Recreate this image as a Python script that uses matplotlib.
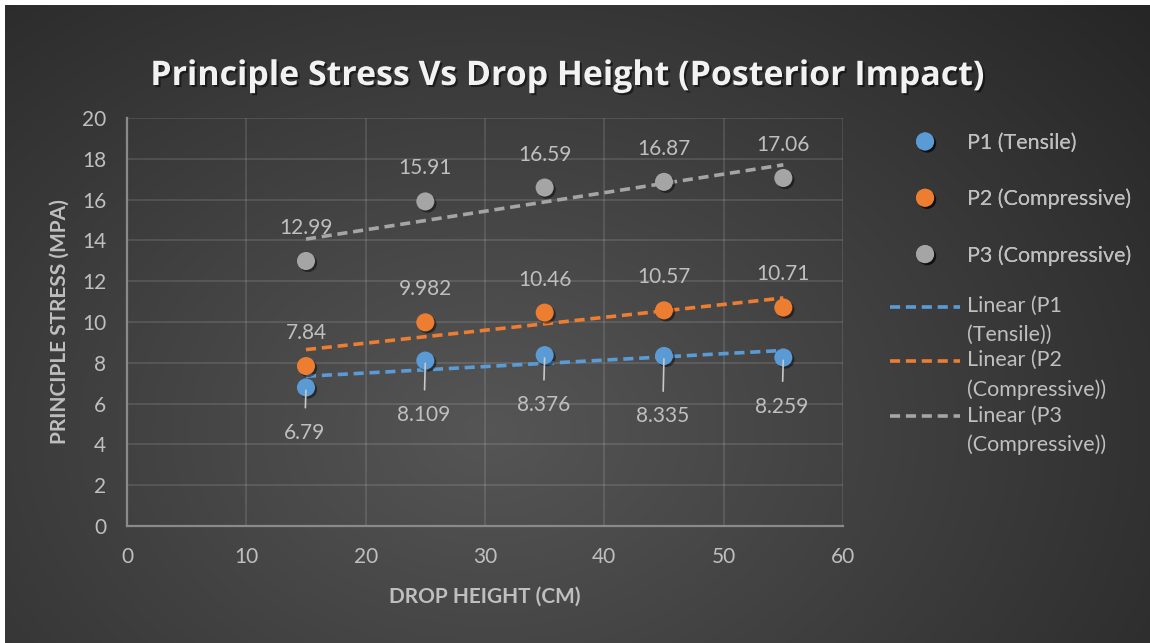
import numpy as np
import matplotlib
matplotlib.use('Agg')
import matplotlib.pyplot as plt
import matplotlib.patheffects as pe
from matplotlib.legend_handler import HandlerLine2D

# data
drop_height = [15, 25, 35, 45, 55]
p1_tensile = [6.79, 8.109, 8.376, 8.335, 8.259]
p2_compressive = [7.84, 9.982, 10.46, 10.57, 10.71]
p3_compressive = [12.99, 15.91, 16.59, 16.87, 17.06]
series_names = ['P1 (Tensile)', 'P2 (Compressive)', 'P3 (Compressive)']
trend_names = ['Linear (P1\n(Tensile))', 'Linear (P2\n(Compressive))', 'Linear (P3\n(Compressive))']
colors = ['#5B9BD5', '#ED7D31', '#A5A5A5']
# how far (px) below its point each P1 label sits in the original
label_drop_px = [45.5, 54.5, 50, 60.5, 49]

plt.rcParams['font.family'] = ['Lato', 'DejaVu Sans']
TXT = '#bfbfbf'


class FirstLineHandler(HandlerLine2D):
    # put the legend line next to the first row of a two-row label
    def create_artists(self, legend, orig_handle, xdescent, ydescent, width, height, fontsize, trans):
        arts = super().create_artists(legend, orig_handle, xdescent, ydescent, width, height, fontsize, trans)
        for a in arts:
            a.set_ydata(np.asarray(a.get_ydata(), dtype=float) + 10.2)
        return arts


fig = plt.figure(figsize=(11.5, 6.43), dpi=100, facecolor='white')

# dark radial gradient background (Excel chart style)
bg = fig.add_axes([5 / 1150, 0, 1 - 5 / 1150, 1 - 5 / 643], zorder=-10)
H, W = 638, 1145
yy, xx = np.mgrid[0:H, 0:W]
r = np.hypot((xx - 485) / 700, (yy - 425) / 520)
shade = np.clip(0.335 - 0.15 * r, 0.13, 1)
bg.imshow(np.dstack([shade] * 3), aspect='auto', interpolation='bilinear')
bg.axis('off')

ax = fig.add_axes([127 / 1150, 1 - 526 / 643, (843 - 127) / 1150, (526 - 118) / 643])
ax.set_facecolor('none')

all_series = [p1_tensile, p2_compressive, p3_compressive]
shadow = [pe.SimplePatchShadow(offset=(1.5, -1.5), shadow_rgbFace='black', alpha=0.45), pe.Normal()]
marker_handles = []
trend_handles = []
for vals, name, tname, c in zip(all_series, series_names, trend_names, colors):
    m, b = np.polyfit(drop_height, vals, 1)
    xs = np.array([min(drop_height), max(drop_height)])
    ln, = ax.plot(xs, m * xs + b, color=c, lw=2.6, dashes=(2.8, 1.6), zorder=3, label=tname)
    trend_handles.append(ln)
    pts, = ax.plot(drop_height, vals, 'o', color=c, ms=13, mec='none', zorder=4,
                   path_effects=shadow, label=name)
    marker_handles.append(pts)

# data labels
for x, v, d in zip(drop_height, p1_tensile, label_drop_px):
    ax.annotate(f'{v:g}', xy=(x, v), xytext=(-1, -d * 0.72), textcoords='offset points',
                ha='center', va='center', color=TXT, fontsize=15, zorder=5,
                arrowprops=dict(arrowstyle='-', color='#c8c8c8', lw=1.2, shrinkA=9, shrinkB=-2))
for vals in (p2_compressive, p3_compressive):
    for x, v in zip(drop_height, vals):
        ax.annotate(f'{v:g}', xy=(x, v), xytext=(0, 23.8), textcoords='offset points',
                    ha='center', va='center', color=TXT, fontsize=15, zorder=5)

ax.set_xlim(0, 60)
ax.set_ylim(0, 20)
ax.set_xticks(range(0, 61, 10))
ax.set_yticks(range(0, 21, 2))
ax.grid(True, color='#ffffff', alpha=0.13, lw=1.2)
ax.set_axisbelow(True)
for s in ['top', 'right']:
    ax.spines[s].set_visible(False)
for s in ['left', 'bottom']:
    ax.spines[s].set_color('#8a8a8a')
    ax.spines[s].set_linewidth(1.6)
ax.tick_params(length=0, pad=15, labelsize=15, labelcolor=TXT)
ax.set_xlabel('DROP HEIGHT (CM)', fontsize=15, fontweight='bold', color=TXT, labelpad=14)
ax.set_ylabel('PRINCIPLE STRESS (MPA)', fontsize=15, fontweight='bold', color=TXT, labelpad=9)

fig.text(0.492, 1 - 76 / 643, 'Principle Stress Vs Drop Height (Posterior Impact)',
         ha='center', va='center', fontsize=24.4, fontweight='bold', color='#f2f2f2',
         family=['Open Sans', 'DejaVu Sans'],
         path_effects=[pe.withSimplePatchShadow(offset=(1.5, -1.5), shadow_rgbFace='black', alpha=0.5)])

leg1 = fig.legend(handles=marker_handles, loc='upper left', bbox_to_anchor=(890 / 1150, 1 - 133 / 643),
                  frameon=False, fontsize=15.5, labelcolor=TXT, handlelength=3.26, handletextpad=0.33,
                  labelspacing=1.66, borderpad=0, borderaxespad=0)
fig.add_artist(leg1)
leg2 = fig.legend(handles=trend_handles, loc='upper left', bbox_to_anchor=(890 / 1150, 1 - 296 / 643),
                  frameon=False, fontsize=15.5, labelcolor=TXT, handlelength=3.26, handletextpad=0.33,
                  labelspacing=0.26, borderpad=0, borderaxespad=0,
                  handler_map={ln: FirstLineHandler() for ln in trend_handles})
for t in leg2.get_texts():
    t.set_linespacing(1.54)

fig.savefig('out.png', dpi=100, facecolor=fig.get_facecolor())
